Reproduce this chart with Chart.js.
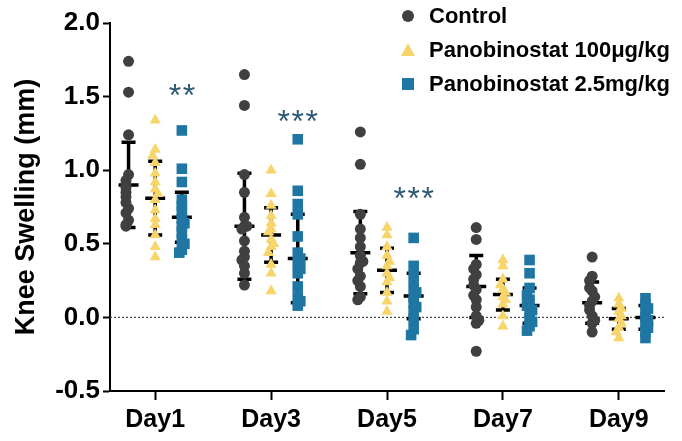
<!DOCTYPE html>
<html>
<head>
<meta charset="utf-8">
<script src="https://cdn.jsdelivr.net/npm/chart.js@4.4.0/dist/chart.umd.min.js"></script>
<style>
  html, body { margin: 0; padding: 0; background: #fff; }
  #wrap { width: 682px; height: 441px; }
</style>
</head>
<body>
<div id="wrap"><canvas id="kneeChart" width="682" height="441"></canvas></div>
<script>
// Data (mm)
const DAYS = ['Day1', 'Day3', 'Day5', 'Day7', 'Day9'];
const GROUPS = ['Control', 'Panobinostat 100μg/kg', 'Panobinostat 2.5mg/kg'];
const Y_TICKS = [-0.5, 0, 0.5, 1.0, 1.5, 2.0];
const STARS = ['**', '***', '***', '', ''];
const STAR_Y = [1.56, 1.38, 0.86, null, null];

const CONTROL = [
  [1.74, 1.53, 1.24, 0.97, 0.93, 0.90, 0.88, 0.85, 0.82, 0.78, 0.74, 0.71, 0.66, 0.63, 0.62],
  [1.65, 1.44, 0.97, 0.85, 0.68, 0.62, 0.60, 0.52, 0.41, 0.39, 0.35, 0.30, 0.22, 0.62, 0.45],
  [1.26, 1.04, 0.70, 0.60, 0.54, 0.48, 0.42, 0.37, 0.33, 0.28, 0.21, 0.14, 0.12, 0.38, 0.25],
  [0.61, 0.53, 0.36, 0.29, 0.26, 0.19, 0.12, 0.07, 0.01, -0.04, -0.23, 0.33, 0.22, 0.15, -0.02],
  [0.41, 0.28, 0.25, 0.18, 0.11, 0.08, 0.01, -0.04, -0.10, 0.20, 0.05, -0.02, 0.14]
];
const PANO_LOW = [
  [1.34, 1.14, 1.10, 1.05, 0.98, 0.92, 0.87, 0.80, 0.73, 0.67, 0.63, 0.56, 0.48, 0.41, 0.84],
  [1.00, 0.84, 0.76, 0.69, 0.64, 0.60, 0.53, 0.48, 0.44, 0.36, 0.30, 0.18, 0.58, 0.50],
  [0.61, 0.56, 0.48, 0.42, 0.35, 0.30, 0.24, 0.17, 0.11, 0.04, 0.38, 0.27],
  [0.39, 0.35, 0.26, 0.19, 0.14, 0.09, 0.01, -0.06, 0.22, 0.17, 0.12],
  [0.13, 0.09, 0.04, -0.01, -0.07, -0.14, 0.06, -0.04, 0.01, -0.10]
];
const PANO_HIGH = [
  [1.27, 1.01, 0.92, 0.80, 0.76, 0.67, 0.62, 0.58, 0.53, 0.46, 0.44, 0.72, 0.64, 0.50],
  [1.21, 0.86, 0.77, 0.70, 0.55, 0.44, 0.37, 0.30, 0.21, 0.14, 0.08, 0.40, 0.33, 0.11],
  [0.54, 0.35, 0.28, 0.21, 0.14, 0.10, 0.04, -0.01, -0.08, -0.12, 0.17, 0.07],
  [0.39, 0.30, 0.20, 0.12, 0.08, 0.03, -0.01, -0.06, -0.09, 0.15, 0.05, -0.03],
  [0.13, 0.09, 0.04, 0.00, -0.05, -0.10, -0.14, 0.06, -0.02, -0.07]
];

// mean and SD per day as drawn on the error bars
const CONTROL_MEAN = [0.90, 0.62, 0.44, 0.21, 0.10];
const CONTROL_SD = [0.29, 0.36, 0.28, 0.21, 0.14];
const LOW_MEAN = [0.81, 0.56, 0.32, 0.155, -0.01];
const LOW_SD = [0.25, 0.185, 0.15, 0.105, 0.07];
const HIGH_MEAN = [0.68, 0.40, 0.145, 0.08, 0.00];
const HIGH_SD = [0.17, 0.30, 0.155, 0.12, 0.08];

const COLORS = ['#404040', '#f8d56b', '#1f76a3'];
const STAR_COLOR = '#2c5874';
const SHIFT = [-0.23, 0, 0.23];
const SERIES = [CONTROL, PANO_LOW, PANO_HIGH];
const MEANS = [CONTROL_MEAN, LOW_MEAN, HIGH_MEAN];
const SDS = [CONTROL_SD, LOW_SD, HIGH_SD];
const FONT = '"Liberation Sans", Arial, sans-serif';

// simple beeswarm: nudge points sideways when they crowd the same value
function swarm(values, day, shift) {
  const placed = [];
  return values.map(v => {
    const near = placed.filter(p => Math.abs(p - v) < 0.04).length;
    placed.push(v);
    const k = Math.ceil(near / 2) * (near % 2 ? -1 : 1);
    return { x: day + shift + k * 0.022, y: v };
  });
}

function points(g) {
  return SERIES[g].flatMap((vals, d) => swarm(vals, d, SHIFT[g]));
}

const overlay = {
  id: 'overlay',
  beforeDatasetsDraw(chart) {
    const { ctx, chartArea, scales } = chart;
    const x = scales.x, y = scales.y;
    ctx.save();
    // zero reference line
    ctx.strokeStyle = '#444';
    ctx.lineWidth = 1.2;
    ctx.setLineDash([2, 2]);
    ctx.beginPath();
    ctx.moveTo(chartArea.left, y.getPixelForValue(0));
    ctx.lineTo(chartArea.right, y.getPixelForValue(0));
    ctx.stroke();
    ctx.setLineDash([]);
    // mean +/- SD
    ctx.strokeStyle = '#000';
    ctx.lineWidth = 3.5;
    for (let g = 0; g < 3; g++) {
      for (let d = 0; d < DAYS.length; d++) {
        const cx = x.getPixelForValue(d + SHIFT[g]);
        const top = y.getPixelForValue(MEANS[g][d] + SDS[g][d]);
        const bot = y.getPixelForValue(MEANS[g][d] - SDS[g][d]);
        const mid = y.getPixelForValue(MEANS[g][d]);
        ctx.beginPath();
        ctx.moveTo(cx, top); ctx.lineTo(cx, bot);
        ctx.moveTo(cx - 7, top); ctx.lineTo(cx + 7, top);
        ctx.moveTo(cx - 7, bot); ctx.lineTo(cx + 7, bot);
        ctx.moveTo(cx - 10, mid); ctx.lineTo(cx + 10, mid);
        ctx.stroke();
      }
    }
    ctx.restore();
  },
  afterDatasetsDraw(chart) {
    const { ctx, scales } = chart;
    const x = scales.x, y = scales.y;
    ctx.save();
    // significance stars above the high-dose group
    ctx.fillStyle = STAR_COLOR;
    ctx.font = '32px ' + FONT;
    ctx.textAlign = 'center';
    ctx.textBaseline = 'alphabetic';
    STARS.forEach((s, d) => {
      if (!s) return;
      const cx = x.getPixelForValue(d + SHIFT[2]);
      const cy = y.getPixelForValue(STAR_Y[d]) + 18;
      for (let i = 0; i < s.length; i++) {
        ctx.fillText('*', cx + (i - (s.length - 1) / 2) * 14, cy);
      }
    });
    // legend
    const rows = [16, 50, 84];
    const mx = 408;
    ctx.font = 'bold 22px ' + FONT;
    ctx.textAlign = 'left';
    ctx.textBaseline = 'middle';
    GROUPS.forEach((name, g) => {
      const ry = rows[g];
      ctx.fillStyle = COLORS[g];
      ctx.beginPath();
      if (g === 0) {
        ctx.arc(mx, ry, 6, 0, Math.PI * 2);
      } else if (g === 1) {
        ctx.moveTo(mx, ry - 7); ctx.lineTo(mx + 7, ry + 6); ctx.lineTo(mx - 7, ry + 6); ctx.closePath();
      } else {
        ctx.rect(mx - 6, ry - 6, 12, 12);
      }
      ctx.fill();
      ctx.fillStyle = '#000';
      ctx.fillText(name, 429, ry + 1);
    });
    ctx.restore();
  }
};

const ctx = document.getElementById('kneeChart').getContext('2d');
new Chart(ctx, {
  type: 'scatter',
  data: {
    datasets: GROUPS.map((name, g) => ({
      label: name,
      data: points(g),
      pointStyle: ['circle', 'triangle', 'rect'][g],
      pointRadius: [5.5, 6.5, 7.5][g],
      pointBorderWidth: 0,
      backgroundColor: COLORS[g],
      borderColor: COLORS[g]
    }))
  },
  options: {
    responsive: false,
    animation: false,
    layout: { padding: { left: 8, right: 18, top: 23, bottom: 0 } },
    plugins: { legend: { display: false }, tooltip: { enabled: false } },
    scales: {
      x: {
        type: 'linear',
        min: -0.39,
        max: 4.39,
        afterBuildTicks: s => { s.ticks = DAYS.map((_, i) => ({ value: i })); },
        afterFit: s => { s.height = 50; },
        ticks: {
          callback: v => DAYS[v],
          color: '#000',
          font: { family: FONT, size: 25, weight: 'bold' },
          padding: 5,
          maxRotation: 0
        },
        grid: { drawOnChartArea: false, tickLength: 9, tickWidth: 2, tickColor: '#000' },
        border: { color: '#000', width: 2 }
      },
      y: {
        min: -0.5,
        max: 2.0,
        afterBuildTicks: s => { s.ticks = Y_TICKS.map(v => ({ value: v })); },
        afterFit: s => { s.width = 102; },
        ticks: {
          callback: v => v.toFixed(1),
          color: '#000',
          font: { family: FONT, size: 26, weight: 'bold' },
          padding: 3
        },
        title: {
          display: true,
          text: 'Knee Swelling (mm)',
          color: '#000',
          font: { family: FONT, size: 27, weight: 'bold' },
          padding: { top: 2, bottom: 0 }
        },
        grid: { drawOnChartArea: false, tickLength: 7, tickWidth: 2, tickColor: '#000' },
        border: { color: '#000', width: 2 }
      }
    }
  },
  plugins: [overlay]
});
</script>
</body>
</html>
